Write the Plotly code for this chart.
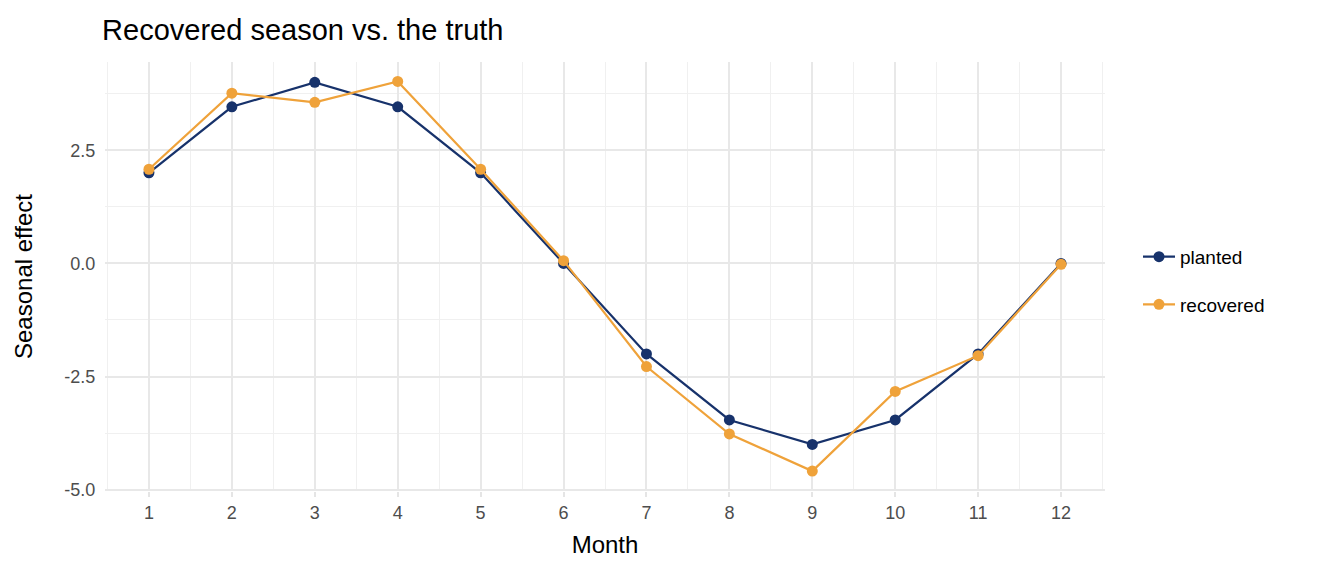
import plotly.graph_objects as go

# monthly seasonal effects
months = list(range(1, 13))
planted = [2.0, 3.46, 4.0, 3.46, 2.0, 0.0, -2.0, -3.46, -4.0, -3.46, -2.0, 0.0]
recovered = [2.08, 3.76, 3.56, 4.02, 2.08, 0.06, -2.28, -3.77, -4.59, -2.83, -2.04, -0.02]

NAVY = "#17326B"
ORANGE = "#EFA23A"
FONT = "Liberation Sans, Arial, sans-serif"

fig = go.Figure()
fig.add_trace(go.Scatter(
    x=months, y=planted, name="planted", mode="lines+markers", legendgroup="a",
    line=dict(color=NAVY, width=2.2), marker=dict(color=NAVY, size=11),
))
fig.add_trace(go.Scatter(
    x=months, y=recovered, name="recovered", mode="lines+markers", legendgroup="b",
    line=dict(color=ORANGE, width=2.2), marker=dict(color=ORANGE, size=11),
))

fig.update_layout(
    width=1344, height=576,
    paper_bgcolor="white", plot_bgcolor="white",
    margin=dict(l=97, r=247, t=54, b=93),
    font=dict(family=FONT, color="black"),
    title=dict(text="Recovered season vs. the truth", x=0.07, xanchor="left",
               y=0.962, yanchor="middle", font=dict(size=29, color="black")),
    legend=dict(x=1.033, y=0.49, xanchor="left", yanchor="middle",
                font=dict(size=19), itemwidth=32, tracegroupgap=20),
    showlegend=True,
)

fig.update_xaxes(
    title=dict(text="Month", font=dict(size=24), standoff=14),
    range=[0.47, 12.53], tickmode="array", tickvals=months,
    ticktext=[str(m) for m in months],
    tickfont=dict(size=18, color="#4D4D4D"),
    showgrid=True, gridcolor="#E8E8E8", gridwidth=2.2,
    minor=dict(dtick=0.5, tick0=0.5, showgrid=True, gridcolor="#F0F0F0", gridwidth=1.1),
    ticks="outside", ticklen=5, tickcolor="#E5E5E5", tickwidth=2,
    zeroline=False, showline=False,
)
fig.update_yaxes(
    title=dict(text="Seasonal effect", font=dict(size=24), standoff=24),
    range=[-5.03, 4.45], tickmode="array", tickvals=[-5, -2.5, 0, 2.5],
    ticktext=["-5.0", "-2.5", "0.0", "2.5"],
    tickfont=dict(size=18, color="#4D4D4D"),
    showgrid=True, gridcolor="#E8E8E8", gridwidth=2.2,
    minor=dict(dtick=1.25, tick0=-3.75, showgrid=True, gridcolor="#F0F0F0", gridwidth=1.1),
    ticks="outside", ticklen=5, tickcolor="white",
    zeroline=False, showline=False,
)

fig.write_html("out.html")
